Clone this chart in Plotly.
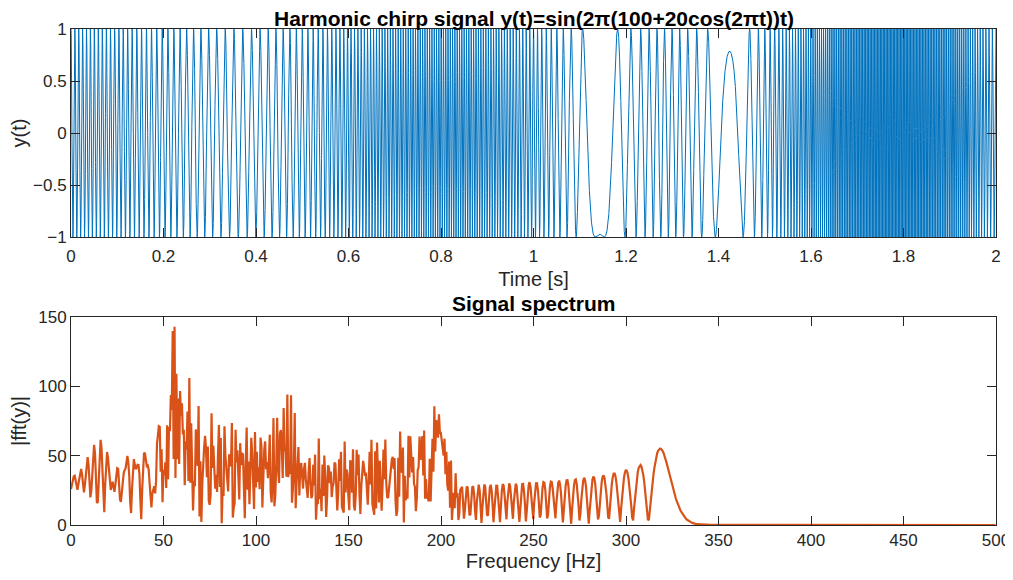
import numpy as np
import plotly.graph_objects as go
from plotly.subplots import make_subplots

# signal parameters (chart title), phase offset
F_CARRIER = 100.0   # Hz
F_DEV = 20.0        # Hz
F_MOD = 1.0         # Hz
PHASE = np.pi / 2
FS = 1000.0         # sampling rate used for the spectrum
FS_PLOT = 20000.0   # finer sampling for the time trace
T_END = 2.0         # seconds


def chirp(t):
    return np.sin(2 * np.pi * (F_CARRIER + F_DEV * np.cos(2 * np.pi * F_MOD * t)) * t + PHASE)


t_fine = np.arange(0, T_END + 1 / FS_PLOT / 2, 1 / FS_PLOT)
y_fine = chirp(t_fine)

t = np.arange(0, T_END + 1 / FS / 2, 1 / FS)
y = chirp(t)
Y = np.abs(np.fft.fft(y))
f = np.arange(len(y)) * FS / len(y)
keep = f <= 500
f, Y = f[keep], Y[keep]

x1_ticks = [0, 0.2, 0.4, 0.6, 0.8, 1, 1.2, 1.4, 1.6, 1.8, 2]
y1_ticks = [-1, -0.5, 0, 0.5, 1]
x2_ticks = [0, 50, 100, 150, 200, 250, 300, 350, 400, 450, 500]
y2_ticks = [0, 50, 100, 150]

AX = "#262626"
FONT = "Liberation Sans, Arial, sans-serif"

fig = make_subplots(rows=2, cols=1)
fig.add_trace(go.Scatter(x=t_fine, y=y_fine, mode="lines",
                         line=dict(color="#0072BD", width=1)), row=1, col=1)
fig.add_trace(go.Scatter(x=f, y=Y, mode="lines",
                         line=dict(color="#D95319", width=2.2)), row=2, col=1)

axis_style = dict(showline=True, linecolor=AX, linewidth=1, mirror="ticks",
                  ticks="inside", ticklen=9, tickcolor=AX, showgrid=False,
                  zeroline=False, automargin=False,
                  tickfont=dict(size=17, color=AX, family=FONT))

fig.update_xaxes(axis_style)
fig.update_yaxes(axis_style)

lab = dict(size=20, color=AX, family=FONT)
fig.update_xaxes(range=[0, 2], tickvals=x1_ticks, domain=[0, 1], ticklabelstandoff=4,
                 title=dict(text="Time [s]", font=lab, standoff=6),
                 row=1, col=1)
fig.update_yaxes(range=[-1, 1], tickvals=y1_ticks, domain=[0.5806, 1],
                 title=dict(text="y(t)", font=lab, standoff=7),
                 row=1, col=1)
fig.update_xaxes(range=[0, 500], tickvals=x2_ticks, domain=[0, 1],
                 title=dict(text="Frequency [Hz]", font=lab, standoff=2),
                 row=2, col=1)
fig.update_yaxes(range=[0, 150], tickvals=y2_ticks, domain=[0, 0.4194],
                 title=dict(text="|fft(y)|", font=lab, standoff=7),
                 row=2, col=1)

fig.add_annotation(text="<b>Harmonic chirp signal y(t)=sin(2\u03c0(100+20cos(2\u03c0t))t)</b>",
                   xref="paper", yref="paper", x=0.5, y=1, yshift=-3,
                   xanchor="center", yanchor="bottom", showarrow=False,
                   font=dict(size=21, color="black", family=FONT))
fig.add_annotation(text="<b>Signal spectrum</b>",
                   xref="paper", yref="paper", x=0.5, y=0.4194, yshift=0,
                   xanchor="center", yanchor="bottom", showarrow=False,
                   font=dict(size=21, color="black", family=FONT))

# page body adds an 8px offset, so the figure is sized to the window minus that
fig.update_layout(width=1005, height=572, showlegend=False,
                  paper_bgcolor="white", plot_bgcolor="white",
                  font=dict(family=FONT, color=AX),
                  margin=dict(l=63, r=17, t=21, b=55))

fig.write_html("out.html")
